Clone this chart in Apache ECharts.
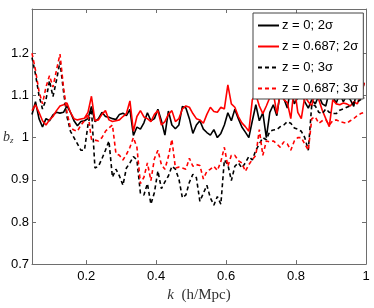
<!DOCTYPE html>
<html>
<head>
<meta charset="utf-8">
<script src="https://cdn.jsdelivr.net/npm/echarts@6/dist/echarts.min.js"></script>
<style>
html,body{margin:0;padding:0;background:#fff;}
#chart{width:374px;height:308px;}
</style>
</head>
<body>
<div id="chart"></div>
<script>
const kValues = [0.045,0.055,0.065,0.075,0.085,0.095,0.105,0.115,0.125,0.135,
0.145,0.155,0.165,0.175,0.185,0.195,0.205,0.215,0.225,0.235,
0.245,0.255,0.265,0.275,0.285,0.295,0.305,0.315,0.325,0.335,
0.345,0.355,0.365,0.375,0.385,0.395,0.405,0.415,0.425,0.435,
0.445,0.455,0.465,0.475,0.485,0.495,0.505,0.515,0.525,0.535,
0.545,0.555,0.565,0.575,0.585,0.595,0.605,0.615,0.625,0.635,
0.645,0.655,0.665,0.675,0.685,0.695,0.705,0.715,0.725,0.735,
0.745,0.755,0.765,0.775,0.785,0.795,0.805,0.815,0.825,0.835,
0.845,0.855,0.865,0.875,0.885,0.895,0.905,0.915,0.925,0.935,
0.945,0.955,0.965,0.975,0.985,0.995];

const z0_2sigma = [1.055,1.085,1.045,1.025,1.045,1.04,1.054,1.06,1.058,1.06,
1.075,1.06,1.04,1.028,1.038,1.04,1.045,1.074,1.038,1.045,
1.06,1.05,1.048,1.045,1.043,1.055,1.058,1.052,1.067,1.005,
1.025,1.02,1.035,1.059,1.04,1.045,1.067,1.04,1.006,1.063,
1.03,1.021,1.03,1.074,1.07,1.045,1.01,1.03,1.04,1.02,
1.012,1.006,1.019,1.0,1.01,1.03,1.059,1.04,1.067,1.045,
1.025,1.013,1.0,1.04,1.078,1.04,1.059,1.0,1.06,1.078,
1.052,1.109,1.093,1.07,1.12,1.08,1.095,1.12,1.085,1.07,
1.09,1.08,1.10,1.08,1.075,1.11,1.097,1.082,1.105,1.085,
1.10,1.09,1.074,1.12,1.10,1.13];

const z0687_2sigma = [1.064,1.078,1.06,1.04,1.03,1.042,1.05,1.064,1.075,1.078,
1.082,1.06,1.045,1.042,1.044,1.046,1.06,1.098,1.04,1.042,
1.055,1.064,1.042,1.038,1.04,1.042,1.05,1.057,1.087,1.015,
1.05,1.064,1.049,1.045,1.038,1.055,1.064,1.03,1.038,1.055,
1.064,1.038,1.045,1.068,1.075,1.072,1.057,1.045,1.042,1.034,
1.055,1.072,1.062,1.06,1.072,1.068,1.125,1.08,1.072,1.05,
1.035,1.026,1.015,1.09,1.102,1.075,1.057,1.075,1.095,1.106,
1.057,1.106,1.09,1.083,1.045,1.121,1.06,1.045,1.098,1.085,
1.075,1.117,1.09,1.065,1.045,1.026,1.09,1.08,1.078,1.082,
1.08,1.075,1.085,1.08,1.10,1.13];

const z0_3sigma = [1.19,1.15,1.10,1.068,1.09,1.135,1.097,1.136,1.18,1.11,
1.05,1.015,1.0,0.985,0.97,0.97,1.03,1.068,0.928,0.932,
0.95,0.97,0.992,0.906,0.925,0.909,0.887,0.928,0.94,0.955,
0.947,0.868,0.864,0.891,0.842,0.87,0.921,0.879,0.895,0.909,
0.932,0.925,0.902,0.857,0.864,0.894,0.913,0.905,0.849,0.868,
0.887,0.857,0.84,0.86,0.842,0.947,0.936,0.898,0.932,0.94,
0.928,0.94,0.955,0.947,0.97,0.985,1.0,0.995,1.015,1.018,
1.019,1.026,1.03,1.038,1.034,1.023,1.02,1.015,1.0,0.97,
1.079,1.075,1.06,1.057,1.068,1.06,1.057,1.057,1.065,1.068,
1.072,1.075,1.083,1.085,1.09,1.095];

const z0687_3sigma = [1.2,1.16,1.11,1.08,1.12,1.147,1.12,1.16,1.198,1.12,
1.06,1.023,1.018,1.015,1.03,1.04,1.057,0.996,0.994,0.992,
1.0,1.015,1.023,1.03,0.962,0.958,0.947,0.96,0.977,1.0,
0.977,0.891,0.906,0.94,0.898,0.95,0.97,0.936,0.925,0.955,
0.996,0.928,0.93,0.928,0.925,0.951,0.932,0.936,0.934,0.902,
0.92,0.925,0.932,0.922,0.943,0.977,0.932,0.958,0.958,0.945,
0.94,0.92,0.936,0.948,0.958,1.019,0.958,0.992,0.99,0.992,
0.985,0.977,0.99,0.985,0.97,0.992,1.0,1.0,0.985,0.97,
1.045,1.049,1.034,1.04,1.042,1.03,1.04,1.042,1.038,1.036,
1.034,1.04,1.045,1.052,1.057,1.06];

const xTicks = [0.2,0.4,0.6,0.8,1];
const yTicks = [0.7,0.8,0.9,1,1.1,1.2];
const seriesNames = ['z = 0; 2σ','z = 0.687; 2σ','z = 0; 3σ','z = 0.687; 3σ'];

function pairs(ys){ return ys.map((y,i)=>[kValues[i], y]); }
const fmt = v => String(+(+v).toFixed(1));

const chart = echarts.init(document.getElementById('chart'), null, {renderer:'canvas'});
const axisColor = '#6e6e6e';
const labelFont = {fontFamily:'Liberation Sans', fontSize:13, color:'#000'};

const seriesDefs = [
  {name:seriesNames[0], data:z0_2sigma, color:'#000000', type:'solid'},
  {name:seriesNames[1], data:z0687_2sigma, color:'#ff0000', type:'solid'},
  {name:seriesNames[2], data:z0_3sigma, color:'#000000', type:[4,3]},
  {name:seriesNames[3], data:z0687_3sigma, color:'#ff0000', type:[4,3]}
];

chart.setOption({
  animation:false,
  backgroundColor:'#fff',
  grid:{left:32, right:8, top:9, bottom:34, containLabel:false},
  xAxis:[{
    type:'value', min:0.045, max:1, position:'bottom',
    axisLine:{show:true, onZero:false, lineStyle:{color:axisColor, width:1}},
    axisTick:{show:true, inside:true, length:4, customValues:xTicks, lineStyle:{color:axisColor}},
    axisLabel:{show:true, margin:6, customValues:xTicks, formatter:fmt, ...labelFont},
    splitLine:{show:false},
    name:'{k|k}  (h/Mpc)', nameLocation:'middle', nameGap:17,
    nameTextStyle:{fontFamily:'Liberation Serif', fontSize:15, color:'#333', rich:{k:{fontFamily:'Liberation Serif', fontStyle:'italic', fontSize:15, color:'#333'}}}
  },{
    type:'value', min:0.045, max:1, position:'top',
    axisLine:{show:true, onZero:false, lineStyle:{color:axisColor, width:1}},
    axisTick:{show:true, inside:true, length:4, customValues:xTicks, lineStyle:{color:axisColor}},
    axisLabel:{show:false}, splitLine:{show:false}
  }],
  yAxis:[{
    type:'value', min:0.7, max:1.305, position:'left',
    axisLine:{show:true, onZero:false, lineStyle:{color:axisColor, width:1}},
    axisTick:{show:true, inside:true, length:4, customValues:yTicks, lineStyle:{color:axisColor}},
    axisLabel:{show:true, margin:3, customValues:yTicks, formatter:fmt, ...labelFont},
    splitLine:{show:false}
  },{
    type:'value', min:0.7, max:1.305, position:'right',
    axisLine:{show:true, onZero:false, lineStyle:{color:axisColor, width:1}},
    axisTick:{show:true, inside:true, length:4, customValues:yTicks, lineStyle:{color:axisColor}},
    axisLabel:{show:false}, splitLine:{show:false}
  }],
  legend:{
    orient:'vertical', left:253, top:13,
    backgroundColor:'#fff', borderColor:'#444', borderWidth:1,
    padding:[6,5,4,4], itemGap:8, itemWidth:21, itemHeight:10,
    itemStyle:{opacity:0},
    textStyle:{fontFamily:'Liberation Sans', fontSize:13, color:'#000', padding:[0,0,0,-2]},
    data:seriesNames
  },
  graphic:[{
    type:'text', left:3, top:130,
    style:{
      text:'{b|b}{z|z}',
      rich:{
        b:{fontFamily:'Liberation Serif', fontStyle:'italic', fontSize:14, fill:'#333'},
        z:{fontFamily:'Liberation Serif', fontStyle:'italic', fontSize:9, fill:'#333', padding:[7,0,0,0]}
      }
    }
  }],
  series: seriesDefs.map(s=>({
    name:s.name, type:'line', xAxisIndex:0, yAxisIndex:0,
    data:pairs(s.data), symbol:'none', showSymbol:false,
    lineStyle:{color:s.color, width:1.6, type:s.type},
    itemStyle:{color:s.color},
    emphasis:{disabled:true}
  }))
});
</script>
</body>
</html>
